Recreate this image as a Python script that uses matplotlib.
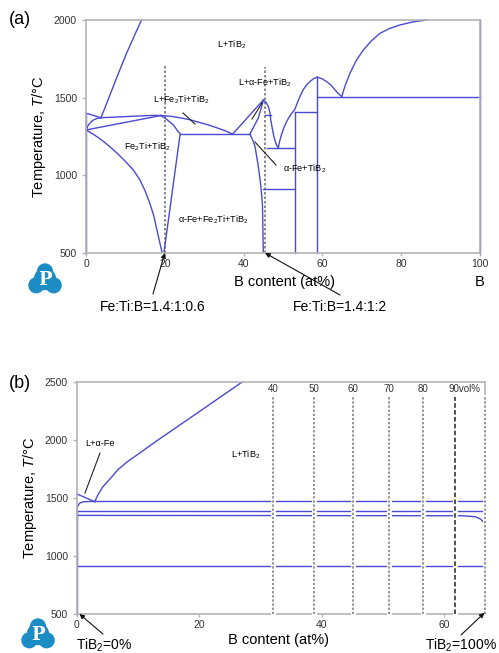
import numpy as np
import matplotlib.pyplot as plt
from matplotlib.patches import Circle

plt.rcParams['font.family'] = ['Liberation Sans', 'DejaVu Sans']
plt.rcParams['mathtext.fontset'] = 'custom'
plt.rcParams['mathtext.rm'] = 'Liberation Sans'
plt.rcParams['mathtext.it'] = 'Liberation Sans:italic'

W, H = 499, 653
blue = '#4a4ad2'
grey = '#b4b4b4'
tickc = '#333333'

# ---------------- (a) isopleth Fe:Ti = 1.4:1, (B at%, T degC) ----------------
a_left_top = [(0, 1400), (3.8, 1371)]
a_liq_fe = [(3.8, 1371), (5.2, 1460), (6.9, 1571), (8.6, 1680), (10.3, 1786), (12.2, 1895),
            (14.1, 2000)]
a_fe2ti_top = [(3.8, 1371), (10, 1378), (17, 1386), (19, 1385)]
a_left_bulge = [(0, 1292), (0.4, 1315), (0.8, 1330), (1.4, 1347), (2, 1358), (2.8, 1366),
                (3.8, 1371)]
a_fe2ti_sol = [(0, 1292), (19, 1385)]
a_fe_solvus = [(0, 1292), (1.5, 1270), (3, 1245), (4.6, 1215), (6.1, 1183), (8, 1140),
               (10, 1090), (12, 1035), (13.7, 970), (15, 900), (16.2, 820), (17.2, 740),
               (18, 649), (18.7, 570), (19.3, 505)]
a_fe2ti_right = [(19, 1385), (20.5, 1360), (22.2, 1324), (23.4, 1281), (23.9, 1268),
                 (19.8, 505)]
a_dome = [(19, 1385), (21.5, 1380), (24, 1370), (26.5, 1357), (28.9, 1340), (31, 1325),
          (33, 1308), (35.2, 1288), (37.2, 1265)]
a_eut1 = [(23.9, 1265), (41.6, 1265)]
a_rise1 = [(37.2, 1265), (45, 1485)]
a_rise2 = [(41.6, 1265), (43.7, 1367), (45, 1480)]
a_fe_tib2 = [(41.6, 1265), (42.3, 1228), (42.9, 1185), (43.6, 1080), (44.2, 970),
             (44.6, 870), (44.8, 800), (45.0, 505)]
a_peak_down = [(45, 1485), (45.7, 1470), (46.3, 1442), (46.7, 1400), (46.9, 1356),
               (47.3, 1300), (47.7, 1249), (48.2, 1205), (48.8, 1174)]
a_small = [(45.4, 1390), (46.9, 1390)]
a_h1174 = [(45.9, 1174), (53, 1174)]
a_h910 = [(45.0, 910), (53, 910)]
a_tib2_liq = [(48.8, 1174), (49.1, 1215), (49.6, 1260), (50.2, 1305), (50.8, 1340),
              (51.4, 1368), (52, 1392), (53, 1425), (54, 1490), (55.1, 1550), (56, 1583),
              (56.9, 1605), (57.8, 1623), (58.7, 1632)]
a_h1410 = [(53, 1410), (58.7, 1410)]
a_v53 = [(53, 1410), (53, 500)]
a_v587 = [(58.7, 1632), (58.7, 500)]
a_dip = [(58.7, 1632), (59.9, 1622), (61.1, 1603), (62.2, 1580), (63.2, 1550),
         (64.1, 1525), (64.9, 1507)]
a_h1507 = [(58.7, 1507), (100, 1507)]
a_liq_b = [(64.9, 1507), (65.8, 1580), (67, 1657), (68.6, 1740), (70.4, 1807), (72.4, 1865),
           (74.6, 1914), (77, 1945), (79.7, 1968), (83, 1988), (86.5, 2000)]
a_v0 = [(0, 500), (0, 1400)]
a_v100 = [(100, 500), (100, 2000)]
a_lines = [a_left_top, a_liq_fe, a_fe2ti_top, a_left_bulge, a_fe2ti_sol, a_fe_solvus,
           a_fe2ti_right, a_dome, a_eut1, a_rise1, a_rise2, a_fe_tib2, a_peak_down, a_small,
           a_h1174, a_h910, a_tib2_liq, a_h1410, a_v53, a_v587, a_dip, a_h1507, a_liq_b,
           a_v0, a_v100]
a_dotted_x = [20, 45.45]
a_dotted_top = [1710, 1700]

# ---------------- (b) Fe - TiB2 section ----------------
b_liq = [(2.9, 1468), (3.4, 1525), (4.2, 1595), (5.4, 1665), (6.7, 1745), (8.2, 1812),
         (10, 1878), (11.5, 1935), (13.1, 1995), (20, 2245), (27, 2500)]
b_small = [(0, 1535), (2.9, 1468)]
b_h1470 = [(0, 1390), (0.1, 1425), (0.4, 1455), (1, 1467), (2, 1470), (66.7, 1470)]
b_h1385 = [(0, 1385), (66.7, 1385)]
b_h1350 = [(0, 1350), (63, 1347), (65.2, 1338), (66.0, 1318), (66.5, 1290), (66.7, 1260)]
b_h910 = [(0, 910), (66.7, 910)]
b_v0 = [(0, 500), (0, 1390)]
b_lines = [b_liq, b_small, b_h1470, b_h1385, b_h1350, b_h910, b_v0]
b_vol_x = [32.0, 38.7, 45.1, 51.0, 56.6, 61.8, 66.7]
b_vol_lab = ['40', '50', '60', '70', '80', '90vol%', '']


def px(x, y):
    return (x / W, 1 - y / H)


def style_axes(ax):
    for s in ax.spines.values():
        s.set_color(grey)
        s.set_linewidth(1.2)
    ax.tick_params(axis='y', colors=grey, labelcolor=tickc, labelsize=7.5, length=3, width=1)
    ax.tick_params(axis='x', colors=grey, labelcolor=tickc, labelsize=7.5, length=2,
                   width=1, pad=2)


def logo(cx, cy):
    la = fig.add_axes([(cx - 18) / W, 1 - (cy + 18) / H, 36 / W, 36 / H])
    la.set_xlim(-1, 1)
    la.set_ylim(-1, 1)
    la.set_aspect('equal')
    la.axis('off')
    c = '#1b8cc4'
    for (x, y, r) in [(0, 0.42, 0.45), (-0.48, -0.35, 0.45), (0.48, -0.35, 0.45), (0, 0, 0.62)]:
        la.add_patch(Circle((x, y), r, color=c, lw=0))
    la.text(0, -0.05, 'P', color='white', fontsize=13, fontweight='bold',
            family='DejaVu Serif', ha='center', va='center')


fig = plt.figure(figsize=(W / 100, H / 100), dpi=100)

# ---------------- panel (a) ----------------
ax = fig.add_axes([86 / W, 1 - 253 / H, (480 - 86) / W, (253 - 20) / H])
for x, top in zip(a_dotted_x, a_dotted_top):
    ax.plot([x, x], [500, top], color='#777777', lw=1.2, ls=(0, (1.5, 1.2)), zorder=1)
for seg in a_lines:
    seg = np.array(seg)
    ax.plot(seg[:, 0], seg[:, 1], color=blue, lw=1.0, zorder=2, clip_on=False)
ax.set_xlim(0, 100)
ax.set_ylim(500, 2000)
ax.set_xticks([0, 20, 40, 60, 80, 100])
ax.set_yticks([500, 1000, 1500, 2000])
style_axes(ax)
ax.set_ylabel(r'Temperature, $T$/°C', fontsize=10.5, labelpad=4)

fs = 6.6
ax.text(37, 1840, r'L+TiB$_2$', fontsize=fs, ha='center', va='center')
ax.text(45.5, 1595, r'L+α-Fe+TiB$_2$', fontsize=fs, ha='center', va='center')
ax.text(24.2, 1485, r'L+Fe$_2$Ti+TiB$_2$', fontsize=fs, ha='center', va='center')
ax.text(15.5, 1183, r'Fe$_2$Ti+TiB$_2$', fontsize=fs, ha='center', va='center')
ax.text(32.3, 713, r'α-Fe+Fe$_2$Ti+TiB$_2$', fontsize=fs, ha='center', va='center')
ax.text(55.4, 1045, r'α-Fe+TiB$_2$', fontsize=fs, ha='center', va='center')
for (x0, y0), (x1, y1) in [((183, 113), (195, 124)), ((252, 119), (262, 103)),
                           ((255, 142), (276, 165))]:
    fig.add_artist(plt.Line2D([x0 / W, x1 / W], [1 - y0 / H, 1 - y1 / H], color='#222222', lw=0.8))

fig.text(*px(20, 20), '(a)', fontsize=13, ha='center', va='center')
fig.text(*px(285, 282), 'B content (at%)', fontsize=10.5, ha='center', va='center')
fig.text(*px(480, 282), 'B', fontsize=10.5, ha='center', va='center')
fig.text(*px(153, 307), 'Fe:Ti:B=1.4:1:0.6', fontsize=10, ha='center', va='center')
fig.text(*px(340, 307), 'Fe:Ti:B=1.4:1:2', fontsize=10, ha='center', va='center')
arrow = dict(arrowstyle='-|>', color='#111111', lw=0.8, mutation_scale=7, shrinkA=0, shrinkB=0)
ax.annotate('', xy=(20, 500), xycoords='data', xytext=px(153, 294),
            textcoords='figure fraction', arrowprops=arrow, annotation_clip=False)
ax.annotate('', xy=(45.45, 500), xycoords='data', xytext=px(340, 295),
            textcoords='figure fraction', arrowprops=arrow, annotation_clip=False)
logo(45, 279)

# ---------------- panel (b) ----------------
bx = fig.add_axes([77 / W, 1 - 614 / H, (485 - 77) / W, (614 - 382) / H])
for seg in b_lines:
    seg = np.array(seg)
    bx.plot(seg[:, 0], seg[:, 1], color=blue, lw=1.0, zorder=2, clip_on=False)
for x, lab in zip(b_vol_x, b_vol_lab):
    dark = lab == '90vol%'
    bx.plot([x, x], [500, 2373], color='white', lw=3.5, zorder=3, clip_on=False)
    bx.plot([x, x], [500, 2373], color='#222222' if dark else '#777777', lw=1.1,
            ls=(0, (3, 1.5)) if dark else (0, (1.5, 1.2)), zorder=4, clip_on=False)
    if lab:
        bx.text(x - 1.1 if dark else x, 2440, lab, fontsize=7, ha='left' if dark else 'center',
                va='center', color=tickc)
bx.set_xlim(0, 66.7)
bx.set_ylim(500, 2500)
bx.set_xticks([0, 20, 40, 60])
bx.set_yticks([500, 1000, 1500, 2000, 2500])
style_axes(bx)
bx.set_ylabel(r'Temperature, $T$/°C', fontsize=10.5, labelpad=4)
bx.text(3.8, 1971, 'L+α-Fe', fontsize=fs, ha='center', va='center')
bx.text(27.5, 1870, r'L+TiB$_2$', fontsize=fs, ha='center', va='center')
fig.add_artist(plt.Line2D([100 / W, 85 / W], [1 - 453 / H, 1 - 493 / H], color='#222222', lw=0.8))

fig.text(*px(20, 383), '(b)', fontsize=13, ha='center', va='center')
fig.text(*px(279, 640), 'B content (at%)', fontsize=10.5, ha='center', va='center')
fig.text(*px(104, 645), r'TiB$_2$=0%', fontsize=10, ha='center', va='center')
fig.text(*px(461, 645), r'TiB$_2$=100%', fontsize=10, ha='center', va='center')
bx.annotate('', xy=(0.4, 500), xycoords='data', xytext=px(103, 634),
            textcoords='figure fraction', arrowprops=arrow, annotation_clip=False)
bx.annotate('', xy=(66.6, 510), xycoords='data', xytext=px(461, 635),
            textcoords='figure fraction', arrowprops=arrow, annotation_clip=False)
logo(38, 634)

fig.savefig('out.png', dpi=100)
